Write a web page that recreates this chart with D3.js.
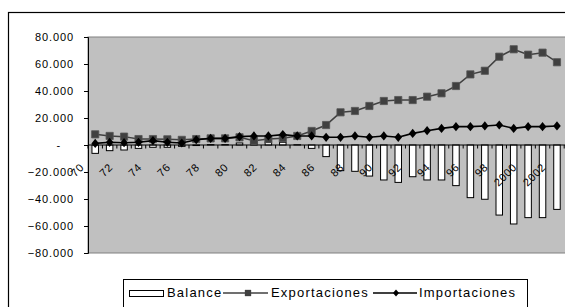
<!DOCTYPE html>
<html>
<head>
<meta charset="utf-8">
<script src="https://d3js.org/d3.v7.min.js"></script>
<style>
    body { margin: 0; padding: 0; background: #fff; }
    svg { display: block; font-family: Arial, 'Liberation Sans', sans-serif; }
</style>
</head>
<body>
<div id="chart"></div>
<script>
// Data
const years = d3.range(1970, 2004);
const tickLabels = ['70', '72', '74', '76', '78', '80', '82', '84', '86', '88', '90', '92', '94', '96', '98', '2000', '2002'];
const yTicks = [-80000, -60000, -40000, -20000, 0, 20000, 40000, 60000, 80000];

// 1970 .. 2002
const balance = [-6200, -4200, -3700, -2500, -1700, -1700, -1000, -400, 300, 300,
    1500, 3000, 2000, 2000, 200, -2500, -8600, -19000, -19500, -23000,
    -25900, -27700, -23500, -25900, -25900, -30100, -39000, -40200, -51900, -58500,
    -53800, -53800, -47700];
const exportaciones = [7900, 6700, 6200, 4400, 4400, 4200, 3800, 4400, 4900, 4900,
    5700, 3200, 4400, 5000, 6700, 10400, 14800, 24200, 25200, 28900,
    32600, 33300, 33300, 35800, 38300, 43700, 52300, 55000, 65400, 70900,
    66900, 68400, 61300];
const importaciones = [1200, 2000, 1700, 2000, 3200, 2000, 1500, 3900, 4900, 4900,
    6200, 6700, 6700, 7700, 6700, 6700, 5700, 5700, 6700, 5700,
    6700, 5700, 8600, 10600, 12300, 13600, 13600, 14100, 14800, 12300,
    13600, 13600, 14100];

const width = 565;
const height = 307;
const plot = { left: 88, top: 37, bottom: 253, step: 14.43 };

const svg = d3.select('#chart')
    .append('svg')
    .attr('width', width)
    .attr('height', height);

// outer chart border (cut off at the right and bottom)
svg.append('rect')
    .attr('x', 8.5).attr('y', 12.5)
    .attr('width', 620).attr('height', 400)
    .attr('fill', 'none')
    .attr('stroke', '#000')
    .attr('stroke-width', 1.2);

const x = d3.scaleBand()
    .domain(years)
    .range([plot.left, plot.left + plot.step * years.length]);

const y = d3.scaleLinear()
    .domain([-80000, 80000])
    .range([plot.bottom, plot.top]);

const bw = x.bandwidth();
const cx = i => x(years[i]) + bw / 2;

// gray plot area
svg.append('rect')
    .attr('x', plot.left).attr('y', plot.top)
    .attr('width', plot.step * years.length).attr('height', plot.bottom - plot.top)
    .attr('fill', '#c0c0c0')
    .attr('stroke', '#808080')
    .attr('stroke-width', 1);

// y axis
const yAxis = svg.append('g')
    .attr('transform', `translate(${plot.left},0)`)
    .call(d3.axisLeft(y).tickValues(yTicks).tickSize(4).tickPadding(0)
        .tickFormat(d => d === 0 ? '-' : d3.format(',')(d).replace(/,/g, '.')));
yAxis.select('.domain').attr('stroke', '#000');
yAxis.selectAll('.tick line').attr('stroke', '#000');
yAxis.selectAll('.tick text')
    .attr('x', d => d === 0 ? -27 : -14)
    .attr('dy', '0.35em')
    .attr('fill', '#000')
    .style('font-size', '11px')
    .style('letter-spacing', '0.9px')
    .style('font-family', "Arial, 'Liberation Sans', sans-serif");

// balance bars
const barW = bw * 0.45;
svg.append('g')
    .selectAll('rect')
    .data(balance)
    .enter()
    .append('rect')
    .attr('x', (d, i) => cx(i) - barW / 2)
    .attr('y', d => y(Math.max(0, d)))
    .attr('width', barW)
    .attr('height', d => Math.abs(y(d) - y(0)))
    .attr('fill', '#fff')
    .attr('stroke', '#000')
    .attr('stroke-width', 1);

// x axis at zero, ticks between categories
const xAxis = svg.append('g');
xAxis.append('line')
    .attr('x1', plot.left).attr('x2', width)
    .attr('y1', y(0)).attr('y2', y(0))
    .attr('stroke', '#000');
xAxis.selectAll('line.tick')
    .data(years)
    .enter()
    .append('line')
    .attr('class', 'tick')
    .attr('x1', d => x(d)).attr('x2', d => x(d))
    .attr('y1', y(0)).attr('y2', y(0) + 3.5)
    .attr('stroke', '#000');

// exportaciones line + squares
const line = d3.line()
    .x((d, i) => cx(i))
    .y(d => y(d));

svg.append('path')
    .datum(exportaciones)
    .attr('d', line)
    .attr('fill', 'none')
    .attr('stroke', '#404040')
    .attr('stroke-width', 1.5);

svg.append('g')
    .selectAll('path')
    .data(exportaciones)
    .enter()
    .append('path')
    .attr('d', d3.symbol(d3.symbolSquare, 52))
    .attr('transform', (d, i) => `translate(${cx(i)},${y(d)})`)
    .attr('fill', '#404040')
    .attr('stroke', '#555')
    .attr('stroke-width', 0.8);

// importaciones line + diamonds
svg.append('path')
    .datum(importaciones)
    .attr('d', line)
    .attr('fill', 'none')
    .attr('stroke', '#000')
    .attr('stroke-width', 1.6);

const diamond = 'M0,-4.6L3.8,0L0,4.6L-3.8,0Z';
svg.append('g')
    .selectAll('path')
    .data(importaciones)
    .enter()
    .append('path')
    .attr('d', diamond)
    .attr('transform', (d, i) => `translate(${cx(i)},${y(d)})`)
    .attr('fill', '#000');

// rotated category labels, every second year
svg.append('g')
    .selectAll('text')
    .data(tickLabels)
    .enter()
    .append('text')
    .attr('transform', (d, i) => `translate(${cx(i * 2) - 10.5},168) rotate(-45)`)
    .attr('text-anchor', 'end')
    .style('font-size', '11px')
    .style('letter-spacing', '0.6px')
    .attr('fill', '#000')
    .text(d => d);

// legend
const legend = svg.append('g');
legend.append('rect')
    .attr('x', 123.5).attr('y', 279.5)
    .attr('width', 404).attr('height', 60)
    .attr('fill', '#fff')
    .attr('stroke', '#000');

legend.append('rect')
    .attr('x', 129.5).attr('y', 290.5)
    .attr('width', 34).attr('height', 6)
    .attr('fill', '#fff')
    .attr('stroke', '#000');

legend.append('line')
    .attr('x1', 223).attr('x2', 268).attr('y1', 293).attr('y2', 293)
    .attr('stroke', '#404040').attr('stroke-width', 1.5);
legend.append('path')
    .attr('d', d3.symbol(d3.symbolSquare, 40))
    .attr('transform', 'translate(248,293)')
    .attr('fill', '#404040');

legend.append('line')
    .attr('x1', 373).attr('x2', 417).attr('y1', 293).attr('y2', 293)
    .attr('stroke', '#000').attr('stroke-width', 1.5);
legend.append('path')
    .attr('d', 'M0,-3.6L3,0L0,3.6L-3,0Z')
    .attr('transform', 'translate(396,293)')
    .attr('fill', '#000');

const legendItems = [['Balance', 167], ['Exportaciones', 271], ['Importaciones', 419]];
legend.selectAll('text.item')
    .data(legendItems)
    .enter()
    .append('text')
    .attr('class', 'item')
    .attr('x', d => d[1])
    .attr('y', 297)
    .style('font-size', '13px')
    .style('letter-spacing', '1.2px')
    .attr('fill', '#000')
    .text(d => d[0]);
</script>
</body>
</html>
